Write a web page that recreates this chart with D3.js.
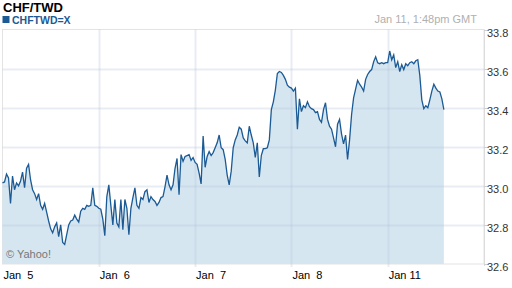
<!DOCTYPE html>
<html>
<head>
<meta charset="utf-8">
<script src="https://cdn.jsdelivr.net/npm/d3@7"></script>
<style>
  body { margin: 0; background: #fff; }
  text { font-family: Arial, "Liberation Sans", sans-serif; }
</style>
</head>
<body>
<div class="svg-container"></div>
<script>
// trading days shown on the x axis
const days = ['Jan  5', 'Jan  6', 'Jan  7', 'Jan  8', 'Jan 11'];
const yTicks = [32.6, 32.8, 33.0, 33.2, 33.4, 33.6, 33.8];

// CHF/TWD quotes, one every 30 minutes from Jan 5 00:00 GMT (weekend skipped)
const quotes = [
  // Jan 5
  33.015, 33.02, 33.06, 33.04, 32.91, 33.05, 32.98, 33.015, 33.00, 33.025,
  33.07, 32.99, 33.09, 33.11, 33.03, 32.98, 32.96, 32.93, 32.96, 32.90,
  32.88, 32.91, 32.865, 32.82, 32.78, 32.76, 32.79, 32.81, 32.74, 32.80,
  32.71, 32.70, 32.75, 32.80, 32.82, 32.825, 32.85, 32.83, 32.815, 32.87,
  32.885, 32.88, 32.90, 32.895, 32.90, 32.99, 32.90, 32.895,
  // Jan 6
  32.885, 32.88, 32.83, 32.745, 32.945, 33.005, 32.90, 32.80, 32.93, 32.81,
  32.79, 32.93, 32.775, 32.93, 32.885, 32.75, 32.885, 32.94, 32.99, 32.90,
  32.885, 32.94, 32.93, 32.97, 32.98, 32.915, 32.945, 32.93, 32.92, 32.90,
  32.915, 32.94, 32.945, 32.995, 33.055, 33.005, 32.98, 33.005, 33.09, 33.14,
  32.955, 33.16, 33.125, 33.15, 33.155, 33.16, 33.13, 33.145,
  // Jan 7
  33.12, 33.11, 33.065, 33.01, 33.255, 33.095, 33.15, 33.175, 33.155, 33.17,
  33.195, 33.22, 33.26, 33.195, 33.185, 33.135, 33.055, 33.005, 33.075, 33.195,
  33.235, 33.26, 33.30, 33.29, 33.245, 33.23, 33.22, 33.305, 33.26, 33.22,
  33.145, 33.22, 33.045, 33.155, 33.19, 33.19, 33.195, 33.235, 33.39, 33.43,
  33.49, 33.575, 33.585, 33.58, 33.565, 33.545, 33.515, 33.505,
  // Jan 8
  33.50, 33.485, 33.50, 33.29, 33.445, 33.38, 33.41, 33.40, 33.43, 33.405,
  33.395, 33.39, 33.375, 33.38, 33.34, 33.325, 33.39, 33.425, 33.34, 33.305,
  33.29, 33.245, 33.20, 33.315, 33.34, 33.265, 33.215, 33.26, 33.135, 33.235,
  33.365, 33.45, 33.495, 33.54, 33.52, 33.505, 33.485, 33.545, 33.57, 33.585,
  33.595, 33.635, 33.66, 33.63, 33.625, 33.63, 33.625, 33.63,
  // Jan 11
  33.63, 33.69, 33.645, 33.67, 33.605, 33.635, 33.585, 33.62, 33.595, 33.625,
  33.615, 33.63, 33.635, 33.625, 33.64, 33.645, 33.565, 33.44, 33.395, 33.41,
  33.40, 33.44, 33.485, 33.52, 33.50, 33.485, 33.48, 33.445, 33.39
];

const width = 512;
const height = 288;
const margin = { top: 29.5, right: 28, bottom: 24, left: 2.5 };
const plotW = width - margin.left - margin.right;
const plotH = height - margin.top - margin.bottom;

const svg = d3.select('.svg-container')
  .append('svg')
  .attr('width', width)
  .attr('height', height)

// x is measured in trading days, 48 half-hours per day
const x = d3.scaleLinear()
  .domain([0, days.length])
  .range([margin.left, margin.left + plotW])

const y = d3.scaleLinear()
  .domain([32.6, 33.8])
  .range([margin.top + plotH, margin.top])

const data = quotes.map((v, i) => ({ t: i / 48, v: v }));

// header
svg.append('text')
  .attr('x', 3).attr('y', 12)
  .style('font-size', '13px').style('font-weight', 'bold').style('fill', '#000')
  .text('CHF/TWD')

svg.append('rect')
  .attr('x', 2.5).attr('y', 16).attr('width', 7).attr('height', 7)
  .style('fill', '#1b5a94')

svg.append('text')
  .attr('x', 12).attr('y', 23.5)
  .style('font-size', '10.5px').style('font-weight', 'bold').style('fill', '#1b5a94')
  .text('CHFTWD=X')

svg.append('text')
  .attr('x', 477).attr('y', 22.5)
  .attr('text-anchor', 'end')
  .style('font-size', '11px').style('fill', '#b0b0b0')
  .text('Jan 11, 1:48pm GMT')

// plot frame
svg.append('rect')
  .attr('x', margin.left).attr('y', margin.top)
  .attr('width', plotW).attr('height', plotH)
  .style('fill', '#fff').style('stroke', '#e3e3e3')

// area + line
const area = d3.area()
  .x(d => x(d.t))
  .y0(y(32.6))
  .y1(d => y(d.v))

const line = d3.line()
  .x(d => x(d.t))
  .y(d => y(d.v))

svg.append('path')
  .datum(data)
  .attr('d', area)
  .style('fill', '#d6e6f1')

// grid lines, drawn over the fill
svg.selectAll('.hgrid')
  .data(yTicks.slice(1, -1))
  .enter()
  .append('line')
  .attr('x1', margin.left).attr('x2', margin.left + plotW)
  .attr('y1', d => Math.round(y(d)) + 0.5).attr('y2', d => Math.round(y(d)) + 0.5)
  .style('stroke', 'rgba(180,195,215,0.3)').style('stroke-width', 2)

svg.selectAll('.vgrid')
  .data(d3.range(1, days.length))
  .enter()
  .append('line')
  .attr('x1', d => Math.round(x(d)) + 0.5).attr('x2', d => Math.round(x(d)) + 0.5)
  .attr('y1', margin.top).attr('y2', margin.top + plotH + 3)
  .style('stroke', 'rgba(180,195,215,0.3)').style('stroke-width', 2)

svg.append('path')
  .datum(data)
  .attr('d', line)
  .style('fill', 'none')
  .style('stroke', '#1b5a94')
  .style('stroke-width', 1.3)

// right axis
svg.append('line')
  .attr('x1', margin.left + plotW + 0.5).attr('x2', margin.left + plotW + 0.5)
  .attr('y1', margin.top).attr('y2', margin.top + plotH + 2)
  .style('stroke', '#dcdcdc')

svg.selectAll('.ytick')
  .data(yTicks)
  .enter()
  .append('line')
  .attr('x1', margin.left + plotW).attr('x2', margin.left + plotW + 4)
  .attr('y1', d => Math.round(y(d)) + 0.5).attr('y2', d => Math.round(y(d)) + 0.5)
  .style('stroke', '#cfcfcf')

svg.selectAll('.ylabel')
  .data(yTicks)
  .enter()
  .append('text')
  .attr('x', 487)
  .attr('y', d => y(d) + 7)
  .style('font-size', '11px').style('fill', '#333')
  .text(d => d.toFixed(1))

// x labels
svg.selectAll('.xlabel')
  .data(days)
  .enter()
  .append('text')
  .attr('x', (d, i) => x(i) + 1)
  .attr('y', 279)
  .attr('xml:space', 'preserve')
  .style('white-space', 'pre')
  .style('font-size', '11px').style('fill', '#000')
  .text(d => d)

svg.append('text')
  .attr('x', 6).attr('y', 258)
  .style('font-size', '11px').style('fill', '#777')
  .text('© Yahoo!')
</script>
</body>
</html>
